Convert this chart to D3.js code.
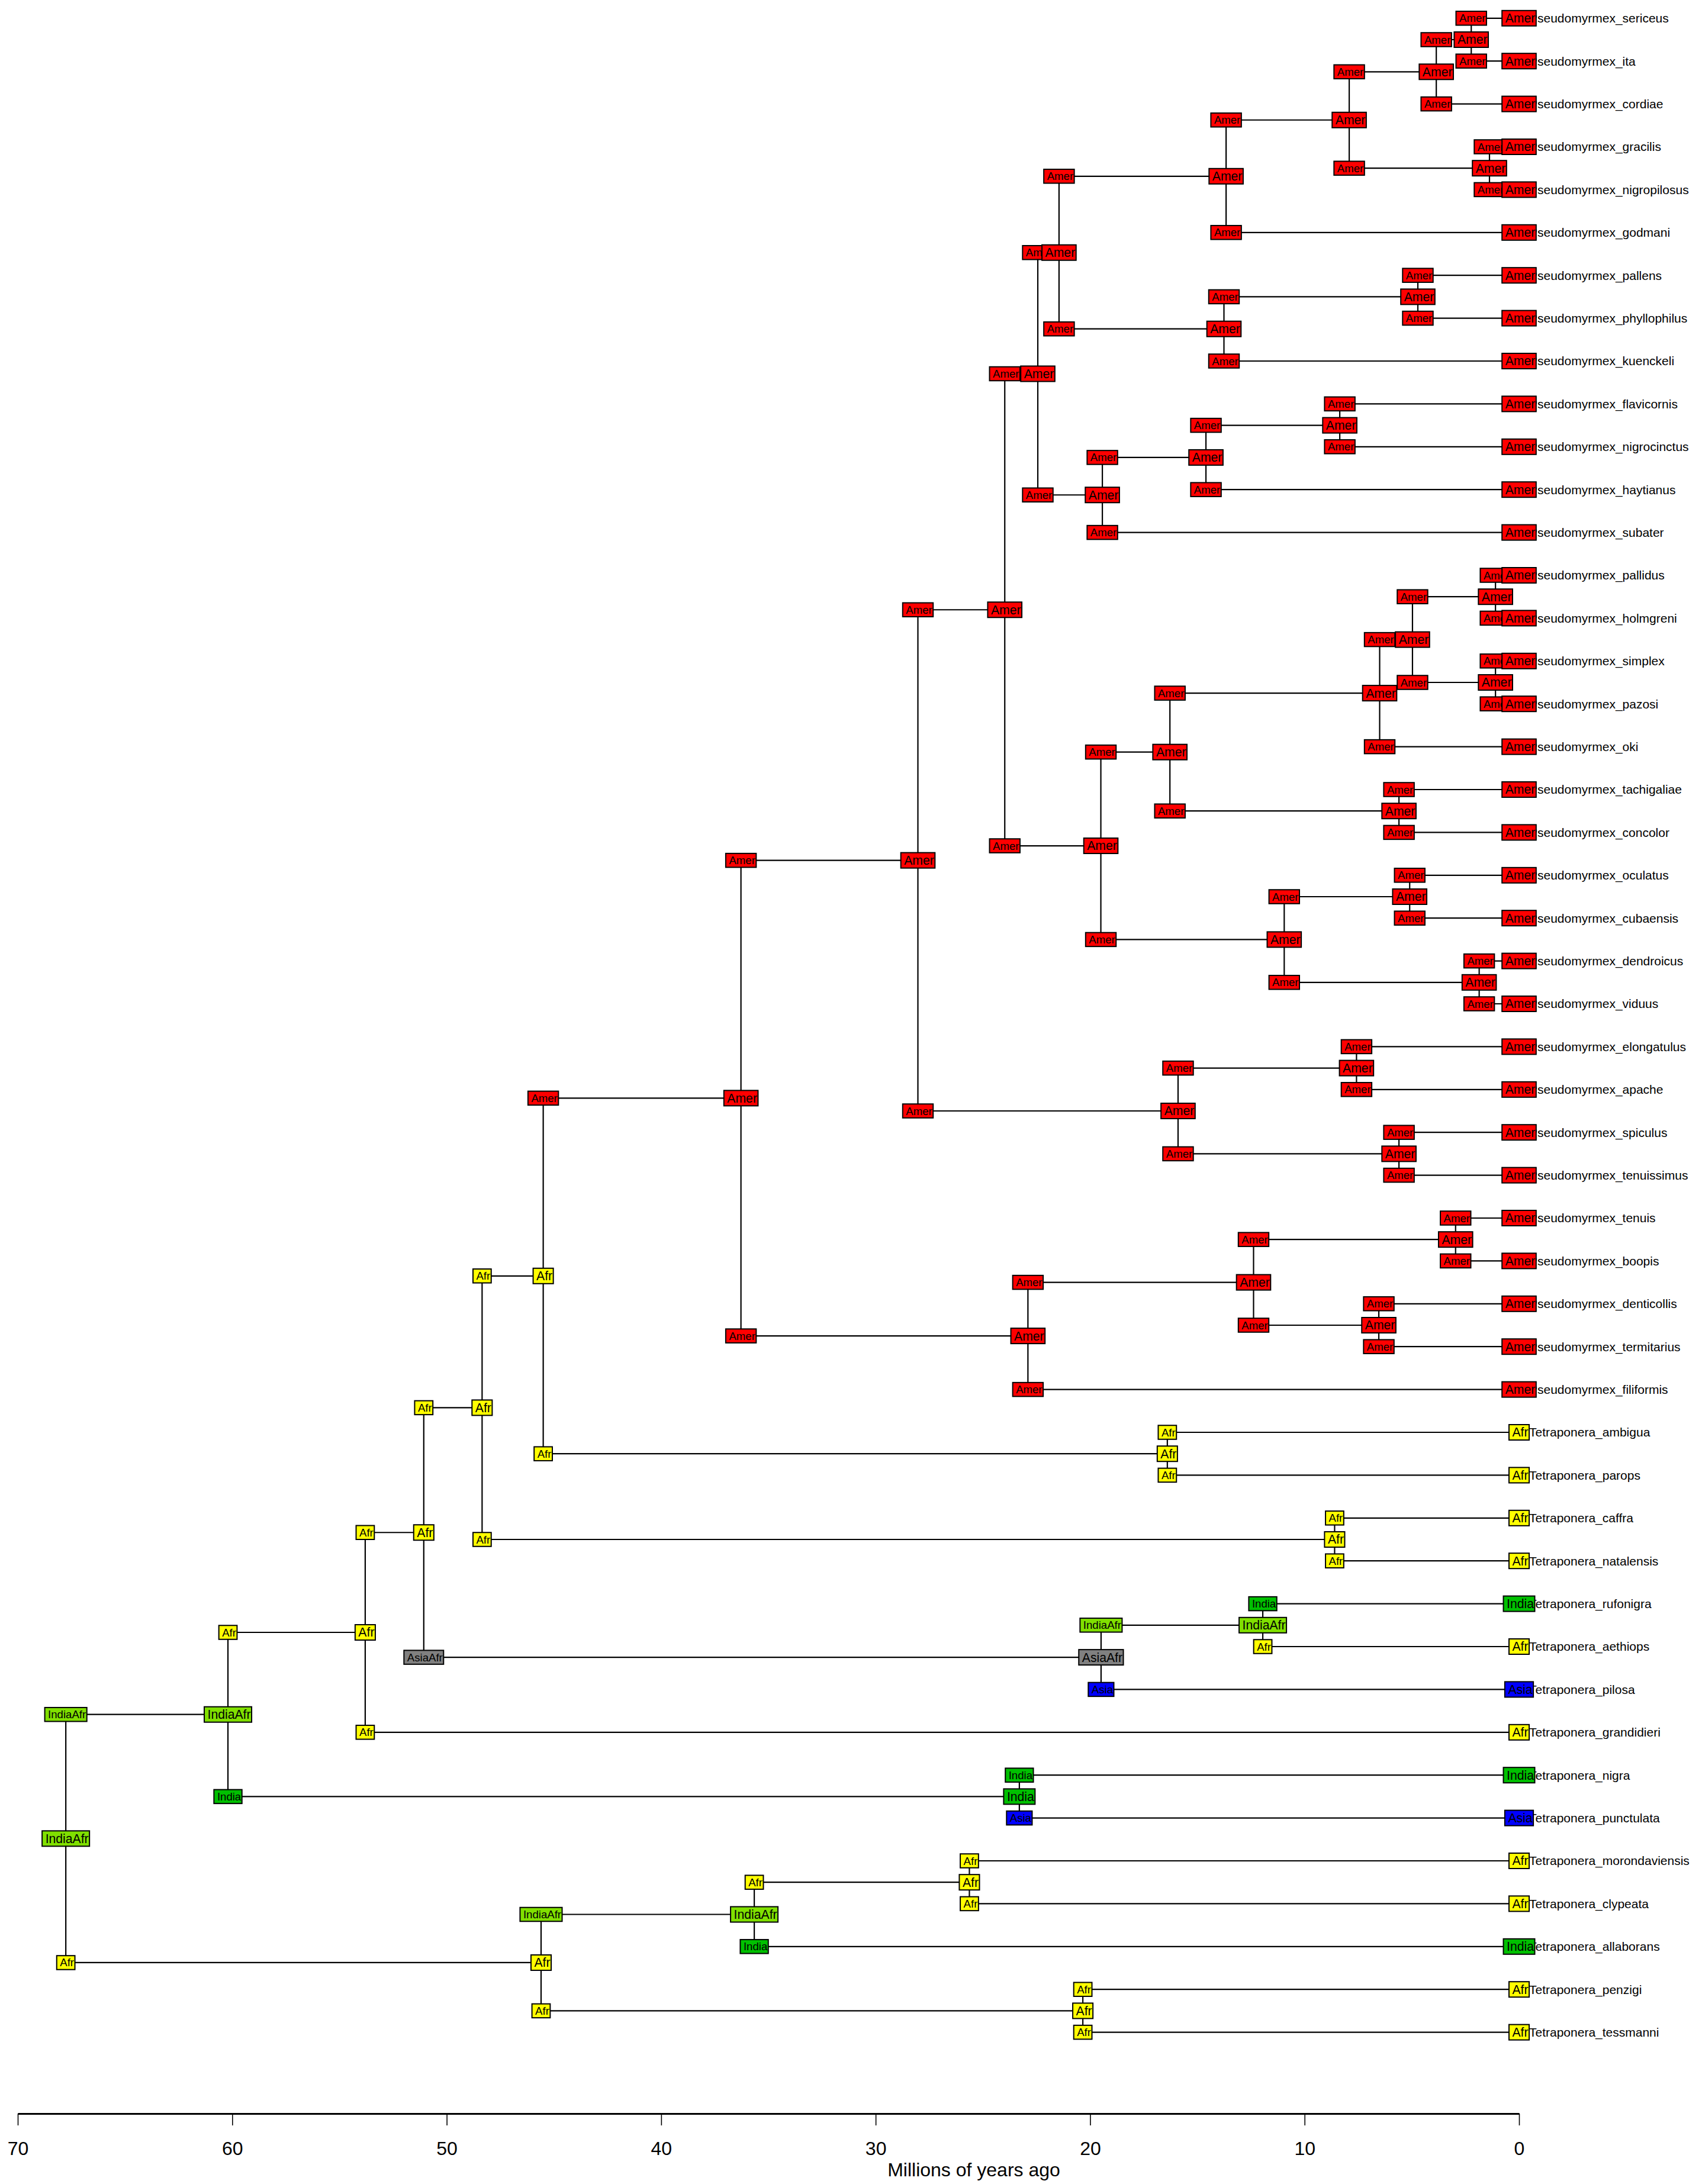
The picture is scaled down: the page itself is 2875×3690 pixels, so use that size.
<!DOCTYPE html>
<html>
<head>
<meta charset="utf-8">
<script src="https://cdn.jsdelivr.net/npm/d3@7"></script>
<style>
  body { margin: 0; background: #fff; }
  text { font-family: "Liberation Sans", Arial, Helvetica, sans-serif; }
</style>
</head>
<body>
<div id="chart"></div>
<script>
// tips, top to bottom
const tipNames = [
  "Pseudomyrmex_sericeus", "Pseudomyrmex_ita", "Pseudomyrmex_cordiae", "Pseudomyrmex_gracilis",
  "Pseudomyrmex_nigropilosus", "Pseudomyrmex_godmani", "Pseudomyrmex_pallens", "Pseudomyrmex_phyllophilus",
  "Pseudomyrmex_kuenckeli", "Pseudomyrmex_flavicornis", "Pseudomyrmex_nigrocinctus", "Pseudomyrmex_haytianus",
  "Pseudomyrmex_subater", "Pseudomyrmex_pallidus", "Pseudomyrmex_holmgreni", "Pseudomyrmex_simplex",
  "Pseudomyrmex_pazosi", "Pseudomyrmex_oki", "Pseudomyrmex_tachigaliae", "Pseudomyrmex_concolor",
  "Pseudomyrmex_oculatus", "Pseudomyrmex_cubaensis", "Pseudomyrmex_dendroicus", "Pseudomyrmex_viduus",
  "Pseudomyrmex_elongatulus", "Pseudomyrmex_apache", "Pseudomyrmex_spiculus", "Pseudomyrmex_tenuissimus",
  "Pseudomyrmex_tenuis", "Pseudomyrmex_boopis", "Pseudomyrmex_denticollis", "Pseudomyrmex_termitarius",
  "Pseudomyrmex_filiformis", "Tetraponera_ambigua", "Tetraponera_parops", "Tetraponera_caffra",
  "Tetraponera_natalensis", "Tetraponera_rufonigra", "Tetraponera_aethiops", "Tetraponera_pilosa",
  "Tetraponera_grandidieri", "Tetraponera_nigra", "Tetraponera_punctulata", "Tetraponera_morondaviensis",
  "Tetraponera_clypeata", "Tetraponera_allaborans", "Tetraponera_penzigi", "Tetraponera_tessmanni"
];
const tipAreas = [
  "Amer","Amer","Amer","Amer","Amer","Amer","Amer","Amer","Amer","Amer","Amer","Amer",
  "Amer","Amer","Amer","Amer","Amer","Amer","Amer","Amer","Amer","Amer","Amer","Amer",
  "Amer","Amer","Amer","Amer","Amer","Amer","Amer","Amer","Amer","Afr","Afr","Afr",
  "Afr","India","Afr","Asia","Afr","India","Asia","Afr","Afr","India","Afr","Afr"
];

// internal nodes, numbered 48.. in order; children are tip or node ids
const nodeChildren = [
  [0,1],[48,2],[3,4],[49,50],[51,5],[6,7],[53,8],[52,54],[9,10],[56,11],
  [57,12],[55,58],[13,14],[15,16],[60,61],[62,17],[18,19],[63,64],[20,21],[22,23],
  [66,67],[65,68],[59,69],[24,25],[26,27],[71,72],[70,73],[28,29],[30,31],[75,76],
  [77,32],[74,78],[33,34],[79,80],[35,36],[81,82],[37,38],[84,39],[83,85],[86,40],
  [41,42],[87,88],[43,44],[90,45],[46,47],[91,92],[89,93]
];
// node ages, millions of years ago
const nodeAges = [
  2.23, 3.86, 1.38, 7.92, 13.66, 4.72, 13.76, 21.45, 8.36, 14.6,
  19.43, 22.44, 1.1, 1.1, 4.97, 6.5, 5.6, 16.28, 5.1, 1.86,
  10.95, 19.5, 23.98, 7.58, 5.6, 15.9, 28.03, 2.96, 6.54, 12.38,
  22.9, 36.28, 16.4, 45.5, 8.6, 48.35, 11.95, 19.49, 51.07, 53.8,
  23.3, 60.2, 25.63, 35.66, 20.34, 45.6, 67.76
];
// most probable range at each node
const nodeAreas = [
  "Amer","Amer","Amer","Amer","Amer","Amer","Amer","Amer","Amer","Amer",
  "Amer","Amer","Amer","Amer","Amer","Amer","Amer","Amer","Amer","Amer",
  "Amer","Amer","Amer","Amer","Amer","Amer","Amer","Amer","Amer","Amer",
  "Amer","Amer","Afr","Afr","Afr","Afr","IndiaAfr","AsiaAfr","Afr","Afr",
  "India","IndiaAfr","Afr","IndiaAfr","Afr","Afr","IndiaAfr"
];
// range just after the split, for each of the two daughters
const cornerAreas = [
  ["Amer","Amer"],["Amer","Amer"],["Amer","Amer"],["Amer","Amer"],["Amer","Amer"],
  ["Amer","Amer"],["Amer","Amer"],["Amer","Amer"],["Amer","Amer"],["Amer","Amer"],
  ["Amer","Amer"],["Amer","Amer"],["Amer","Amer"],["Amer","Amer"],["Amer","Amer"],
  ["Amer","Amer"],["Amer","Amer"],["Amer","Amer"],["Amer","Amer"],["Amer","Amer"],
  ["Amer","Amer"],["Amer","Amer"],["Amer","Amer"],["Amer","Amer"],["Amer","Amer"],
  ["Amer","Amer"],["Amer","Amer"],["Amer","Amer"],["Amer","Amer"],["Amer","Amer"],
  ["Amer","Amer"],["Amer","Amer"],["Afr","Afr"],["Amer","Afr"],["Afr","Afr"],
  ["Afr","Afr"],["India","Afr"],["IndiaAfr","Asia"],["Afr","AsiaAfr"],["Afr","Afr"],
  ["India","Asia"],["Afr","India"],["Afr","Afr"],["Afr","India"],["Afr","Afr"],
  ["IndiaAfr","Afr"],["IndiaAfr","Afr"]
];
const ageTicks = [70, 60, 50, 40, 30, 20, 10, 0];

const areaColors = {
  Amer: "#ff0000", Afr: "#ffff00", India: "#00c000",
  IndiaAfr: "#80e000", Asia: "#0000ff", AsiaAfr: "#808080"
};

const W = 2875, H = 3690;
const svg = d3.select("#chart").append("svg")
  .attr("width", W).attr("height", H)
  .style("background", "#fff");

const xScale = d3.scaleLinear().domain([70, 0]).range([30, 2566]);
const yScale = d3.scaleLinear().domain([0, tipNames.length - 1]).range([30.8, 3433.6]);

const nTip = tipNames.length;
let pos = {};
tipNames.forEach((t, i) => { pos[i] = {age: 0, y: yScale(i)} });
nodeChildren.forEach((c, k) => {
  pos[nTip + k] = {age: nodeAges[k], y: (pos[c[0]].y + pos[c[1]].y) / 2};
});

// branches
let edges = svg.append("g").attr("stroke", "#000").attr("stroke-width", 2.2).attr("fill", "none");
nodeChildren.forEach((c, k) => {
  let px = xScale(nodeAges[k]);
  edges.append("line")
    .attr("x1", px).attr("x2", px)
    .attr("y1", pos[c[0]].y).attr("y2", pos[c[1]].y);
  c.forEach(ch => {
    edges.append("line")
      .attr("x1", px).attr("x2", xScale(pos[ch].age))
      .attr("y1", pos[ch].y).attr("y2", pos[ch].y);
  });
});

// tip names
svg.append("g").selectAll("text")
  .data(tipNames)
  .join("text")
  .attr("x", xScale(0) + 17)
  .attr("y", (d, i) => yScale(i))
  .attr("dy", "0.35em")
  .attr("font-size", 21)
  .attr("fill", "#000")
  .text(d => d);

function drawBox(layer, cx, cy, label, size, h) {
  let g = layer.append("g");
  let r = g.append("rect");
  let t = g.append("text")
    .attr("y", cy).attr("dy", "0.35em")
    .attr("font-size", size)
    .attr("fill", "#000")
    .text(label);
  let tw = t.node().getComputedTextLength();
  let w = tw + 7;
  r.attr("x", cx - w / 2).attr("y", cy - h / 2)
    .attr("width", w).attr("height", h)
    .attr("fill", areaColors[label])
    .attr("stroke", "#000").attr("stroke-width", 2);
  t.attr("x", cx - w / 2 + 5.5);
}

// split (corner) labels
let corners = svg.append("g");
nodeChildren.forEach((c, k) => {
  c.forEach((ch, j) => {
    drawBox(corners, xScale(nodeAges[k]), pos[ch].y, cornerAreas[k][j], 18.6, 23.5);
  });
});

// node labels
let nodeLayer = svg.append("g");
nodeChildren.forEach((c, k) => {
  drawBox(nodeLayer, xScale(nodeAges[k]), pos[nTip + k].y, nodeAreas[k], 21.2, 26);
});

// tip labels
let tipLayer = svg.append("g");
tipAreas.forEach((a, i) => {
  drawBox(tipLayer, xScale(0), yScale(i), a, 21.2, 26);
});

// time axis
let axis = d3.axisBottom(xScale)
  .tickValues(ageTicks)
  .tickSize(20)
  .tickSizeOuter(0)
  .tickPadding(27)
  .tickFormat(d3.format("d"));
let ax = svg.append("g")
  .attr("transform", "translate(0,3571)")
  .call(axis);
ax.attr("font-size", 32).attr("font-family", null);
ax.select(".domain").attr("stroke-width", 3);
ax.selectAll(".tick line").attr("stroke-width", 1.6);
ax.selectAll(".tick text").attr("fill", "#000");

svg.append("text")
  .attr("x", 1645).attr("y", 3677)
  .attr("text-anchor", "middle")
  .attr("font-size", 32)
  .attr("fill", "#000")
  .text("Millions of years ago");
</script>
</body>
</html>
